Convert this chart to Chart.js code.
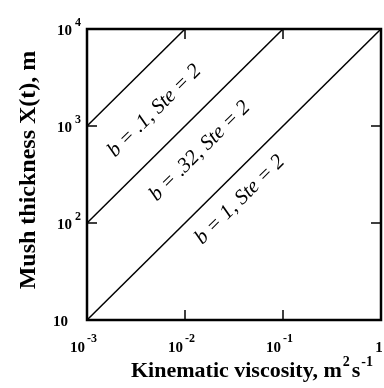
<!DOCTYPE html>
<html>
<head>
<meta charset="utf-8">
<script src="https://cdn.jsdelivr.net/npm/chart.js@4.4.4/dist/chart.umd.min.js"></script>
<style>
  html, body { margin: 0; padding: 0; background: #fff; }
  #wrap { width: 384px; height: 388px; }
</style>
</head>
<body>
<div id="wrap"><canvas id="chart" width="384" height="388"></canvas></div>
<script>
// ─── Data ────────────────────────────────────────────────────────────────────
const b01X  = [0.001, 0.01];
const b01Y  = [1000, 10000];
const b032X = [0.001, 0.1];
const b032Y = [100, 10000];
const b1X   = [0.001, 1];
const b1Y   = [10, 10000];

const seriesLabels = ['b = .1, Ste = 2', 'b = .32, Ste = 2', 'b = 1, Ste = 2'];
const labelAtX = [0.0049, 0.0142, 0.0364];   // label anchor, data coords
const labelAtY = [1430, 552, 173];

const xTicks    = [0.001, 0.01, 0.1, 1];
const xTickBase = ['10', '10', '10', '1'];
const xTickExp  = ['-3', '-2', '-1', ''];
const yTicks    = [10, 100, 1000, 10000];
const yTickBase = ['10', '10', '10', '10'];
const yTickExp  = ['', '2', '3', '4'];

const xTitle = 'Kinematic viscosity, m';
const yTitle = 'Mush thickness X(t), m';

const SERIF = "'Liberation Serif', 'Times New Roman', serif";

const toPts = (xs, ys) => xs.map((x, i) => ({ x, y: ys[i] }));

// ─── Decorations: frame, inner ticks, labels, titles ────────────────────────
const decor = {
  id: 'decor',
  afterDraw(chart) {
    const { ctx, chartArea: a, scales: { x, y } } = chart;
    ctx.save();
    ctx.strokeStyle = '#000';
    ctx.fillStyle = '#000';

    // frame
    ctx.lineWidth = 2.5;
    ctx.strokeRect(a.left, a.top, a.right - a.left, a.bottom - a.top);

    // inner ticks (skip the corners)
    ctx.lineWidth = 1.5;
    const tl = 10;
    xTicks.slice(1, -1).forEach(v => {
      const px = x.getPixelForValue(v);
      ctx.beginPath();
      ctx.moveTo(px, a.bottom); ctx.lineTo(px, a.bottom - tl);
      ctx.moveTo(px, a.top);    ctx.lineTo(px, a.top + tl);
      ctx.stroke();
    });
    yTicks.slice(1, -1).forEach(v => {
      const py = y.getPixelForValue(v);
      ctx.beginPath();
      ctx.moveTo(a.left, py);  ctx.lineTo(a.left + tl, py);
      ctx.moveTo(a.right, py); ctx.lineTo(a.right - tl, py);
      ctx.stroke();
    });

    // y tick labels
    ctx.textBaseline = 'middle';
    yTicks.forEach((v, i) => {
      const py = y.getPixelForValue(v) + 2;
      ctx.font = `bold 15px ${SERIF}`;
      ctx.textAlign = 'right';
      ctx.fillText(yTickBase[i], yTickExp[i] ? 72 : 68, py);
      if (yTickExp[i]) {
        ctx.font = `bold 12px ${SERIF}`;
        ctx.textAlign = 'left';
        ctx.fillText(yTickExp[i], 75, py - 8);
      }
    });

    // x tick labels
    xTicks.forEach((v, i) => {
      const px = x.getPixelForValue(v);
      const py = 348;
      ctx.font = `bold 15px ${SERIF}`;
      if (xTickExp[i]) {
        ctx.textAlign = 'right';
        ctx.fillText(xTickBase[i], px - 2, py);
        ctx.font = `bold 12px ${SERIF}`;
        ctx.textAlign = 'left';
        ctx.fillText(xTickExp[i], px, py - 9);
      } else {
        ctx.textAlign = 'center';
        ctx.fillText(xTickBase[i], px - 2, py);
      }
    });

    // x title with superscripts
    ctx.textAlign = 'left';
    ctx.textBaseline = 'alphabetic';
    let tx = 131;
    const ty = 377;
    ctx.font = `bold 22px ${SERIF}`;
    ctx.fillText(xTitle, tx, ty);
    tx += ctx.measureText(xTitle).width + 1;
    ctx.font = `bold 14px ${SERIF}`;
    ctx.fillText('2', tx, ty - 11);
    tx += ctx.measureText('2').width + 2;
    ctx.font = `bold 22px ${SERIF}`;
    ctx.fillText('s', tx, ty);
    tx += ctx.measureText('s').width + 1;
    ctx.font = `bold 14px ${SERIF}`;
    ctx.fillText('-1', tx, ty - 11);

    // y title
    ctx.save();
    ctx.translate(35, 170);
    ctx.rotate(-Math.PI / 2);
    ctx.font = `bold 24px ${SERIF}`;
    ctx.textAlign = 'center';
    ctx.fillText(yTitle, 0, 0);
    ctx.restore();

    // line labels, rotated along each line
    chart.data.datasets.forEach((ds, i) => {
      const p0 = ds.data[0], p1 = ds.data[ds.data.length - 1];
      const ang = Math.atan2(
        y.getPixelForValue(p1.y) - y.getPixelForValue(p0.y),
        x.getPixelForValue(p1.x) - x.getPixelForValue(p0.x));
      ctx.save();
      ctx.translate(x.getPixelForValue(labelAtX[i]), y.getPixelForValue(labelAtY[i]));
      ctx.rotate(ang);
      ctx.font = `italic 21px ${SERIF}`;
      ctx.textAlign = 'center';
      ctx.textBaseline = 'middle';
      ctx.fillText(seriesLabels[i], 0, 0);
      ctx.restore();
    });

    ctx.restore();
  }
};

// ─── Chart ───────────────────────────────────────────────────────────────────
const line = (label, pts) => ({
  label, data: pts, showLine: true, pointRadius: 0,
  borderColor: '#000', borderWidth: 1.5, fill: false,
});

new Chart(document.getElementById('chart').getContext('2d'), {
  type: 'scatter',
  data: {
    datasets: [
      line(seriesLabels[0], toPts(b01X, b01Y)),
      line(seriesLabels[1], toPts(b032X, b032Y)),
      line(seriesLabels[2], toPts(b1X, b1Y)),
    ],
  },
  options: {
    responsive: false,
    animation: false,
    layout: { padding: { left: 87, right: 3, top: 29, bottom: 68 } },
    scales: {
      x: { type: 'logarithmic', min: 0.001, max: 1, display: false },
      y: { type: 'logarithmic', min: 10, max: 10000, display: false },
    },
    plugins: { legend: { display: false }, tooltip: { enabled: false } },
  },
  plugins: [decor],
});
</script>
</body>
</html>
